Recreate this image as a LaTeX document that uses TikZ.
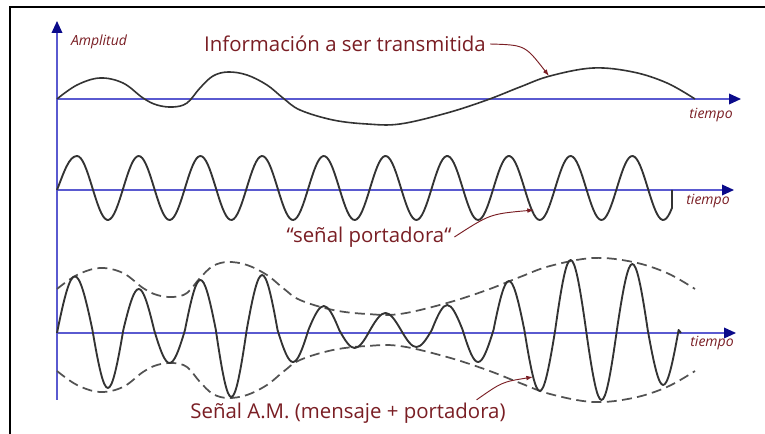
\documentclass[tikz,border=0pt]{standalone}
\usepackage{fontspec}
\setmainfont{Open Sans}
\usetikzlibrary{arrows.meta}
\definecolor{axisblue}{HTML}{5A5AD0}
\definecolor{tipnavy}{HTML}{0A0A8A}
\definecolor{labred}{HTML}{7A1E24}
\definecolor{wavegray}{HTML}{333333}
\tikzset{
  axisline/.style={draw=axisblue, line width=1.1pt},
  axisarrow/.style={axisline, -{Triangle[length=9pt,width=8pt,color=tipnavy]}},
  wave/.style={draw=wavegray, line width=1.4pt, line join=round},
  envelope/.style={draw=wavegray!85, line width=1.3pt, dash pattern=on 7.5pt off 4pt},
  biglabel/.style={text=labred, font=\fontsize{15.3pt}{17pt}\selectfont, inner sep=0pt},
  smalllabel/.style={text=labred, font=\fontsize{10.5pt}{12pt}\selectfont\itshape, inner sep=0pt},
  pointer/.style={draw=labred, line width=0.7pt, -{Latex[length=5pt,width=3.5pt]}}
}
\begin{document}
\begin{tikzpicture}[x=0.75pt,y=-0.75pt]
\useasboundingbox (0,0) rectangle (765,434);
\fill[white] (0,0) rectangle (765,434);
% frame
\draw[line width=1.6pt, black] (10,434) -- (10,7) -- (765,7);

% axes
\coordinate (vb) at (57,400);
\coordinate (vt) at (57,21);
\draw[axisarrow] (vb) -- (vt);
\coordinate (a1s) at (57,99);
\coordinate (a1e) at (741,99);
\coordinate (a2s) at (57,190);
\coordinate (a2e) at (734,190);
\coordinate (a3s) at (57,333);
\coordinate (a3e) at (736,333);
\draw[axisarrow] (a1s) -- (a1e);
\draw[axisarrow] (a2s) -- (a2e);
\draw[axisarrow] (a3s) -- (a3e);

% information signal
\draw[wave, line width=1.2pt] plot[smooth, tension=0.6] coordinates {
 (57,99) (77,85) (100,78) (123,83) (143,98) (157,105) (173,107) (187,103)
 (200,88) (213,76) (228,72) (247,75) (267,85) (283,98) (300,110) (333,120)
 (367,124) (400,124) (447,113) (487,100) (520,87) (550,76) (593,68) (633,72)
 (667,83) (695,99)};

% carrier
\draw[wave] (57,190) .. controls (64,172) and (69,156) .. (77,156)
  -- plot[domain=77:672, samples=320] (\x,{188-32*sin(5.83468*(\x-61.6))})
  -- (672,190);

% envelopes
\draw[envelope] plot[smooth, tension=0.6] coordinates {
 (57,289) (77,275) (100,268) (123,273) (143,288) (157,295) (173,297) (187,293)
 (200,278) (213,266) (228,262) (247,265) (267,275) (283,288) (300,300) (333,310)
 (367,314) (400,314) (447,303) (487,290) (520,277) (550,266) (593,258) (633,262)
 (667,273) (695,289)};
\draw[envelope] plot[smooth, tension=0.6] coordinates {
 (57,371) (77,385) (100,392) (123,387) (143,372) (157,365) (173,363) (187,367)
 (200,382) (213,394) (228,398) (247,395) (267,385) (283,372) (300,360) (333,350)
 (367,346) (400,346) (447,357) (487,370) (520,383) (550,394) (593,402) (633,398)
 (667,387) (695,371)};

% AM signal
\draw[wave] (57,333)
  foreach \za/\zb/\cy in {
   57/92.45/258, 92.45/123.3/407.3, 123.3/154.15/275.3, 154.15/185/374,
   185/215.85/263.3, 215.85/246.7/419.3, 246.7/277.55/256.7, 277.55/308.4/372.7,
   308.4/339.25/298, 339.25/370.1/354, 370.1/400.95/307.3, 400.95/431.8/352.7,
   431.8/462.65/296.7, 462.65/493.5/372.7, 493.5/524.35/264.7, 524.35/555.2/411.3,
   555.2/586.05/236.7, 586.05/616.9/423.3, 616.9/647.75/242, 647.75/678.6/403.3}
  { .. controls ({\za+0.4244*(\zb-\za)},\cy) and ({\zb-0.4244*(\zb-\za)},\cy) .. (\zb,330) }
  -- (681,333);

% labels
\node[smalllabel] (amp) at (99,42) {Amplitud};
\node[biglabel] (info) at (345,44) {Información a ser transmitida};
\node[smalllabel] (t1) at (711,115) {tiempo};
\node[smalllabel] (t2) at (708,201) {tiempo};
\node[smalllabel] (t3) at (712,343) {tiempo};
\node[biglabel] (port) at (369,237) {“señal portadora“};
\node[biglabel] (am) at (348,413) {Señal A.M. (mensaje + portadora)};

% pointers
\coordinate (p1) at (549,76);
\coordinate (p2) at (534,210);
\coordinate (p3) at (533,377);
\draw[pointer] ([xshift=3pt]info.east) .. controls (525,45) .. (p1);
\draw[pointer] ([xshift=2pt]port.east) .. controls (490,214) .. (p2);
\draw[pointer] ([xshift=-22pt,yshift=2pt]am.north east) .. controls (502,382) .. (p3);
\end{tikzpicture}
\end{document}
